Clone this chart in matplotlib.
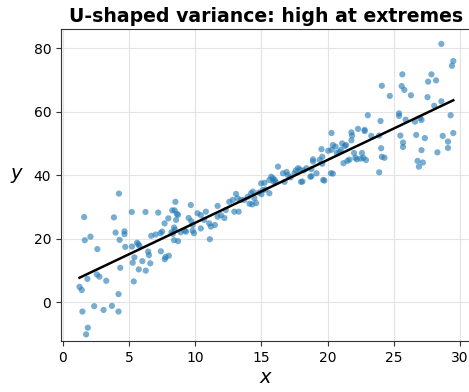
import matplotlib
matplotlib.use("Agg")
import matplotlib.pyplot as plt
import numpy as np

# points, grouped by x range
x_left = [1.25, 1.42, 1.47, 1.6, 1.65, 1.75, 1.88, 1.85, 2.08, 2.36, 2.56, 2.76, 2.6, 3.07, 3.27,
          3.7, 3.85, 3.98, 4.2, 4.2, 4.23, 4.28, 4.33, 4.65, 4.65, 4.71, 5.2, 5.22, 5.6, 5.7,
          5.78, 6.24, 6.67, 7.0, 7.37, 6.44, 6.5, 5.4, 5.27, 6.0, 5.73, 6.26, 5.35, 6.6, 7.2]
y_left = [4.8, 3.8, -3.0, 26.8, 19.5, -10.2, -8.1, 7.3, 20.6, -1.3, 8.7, 8.0, 16.7, -2.5, 6.7,
          -1.2, 26.7, 21.9, 2.5, -3.0, 34.2, 19.6, 10.8, 22.3, 21.4, 17.4, 28.4, 17.5, 18.7, 18.2,
          17.7, 28.4, 20.9, 21.3, 21.7, 15.9, 14.8, 14.1, 12.4, 12.9, 10.3, 9.9, 6.5, 12.2, 28.2]

x_mid = [8.26, 8.44, 8.5, 9.66, 8.6, 8.7, 7.96, 8.55, 7.68, 7.5, 7.4, 7.7, 7.75, 8.0, 8.4,
         8.45, 8.4, 8.7, 9.2, 9.8, 9.3, 8.9, 10.17, 10.42, 10.67, 10.8, 11.05, 11.18, 11.48,
         11.69, 11.69, 11.94, 10.42, 9.9, 11.1, 9.5, 9.7, 9.8, 8.2, 8.3, 12.57, 12.83, 13.08,
         13.2, 13.46, 13.7, 13.97, 14.22, 14.35, 14.47, 12.95, 13.28, 12.2, 12.3, 14.1, 14.3, 14.6,
         14.8, 15.0]
y_mid = [28.9, 28.9, 31.6, 30.6, 27.8, 27.5, 26.4, 25.9, 24.8, 22.2, 16.0, 13.5, 14.2, 14.6, 23.5,
         22.8, 19.5, 19.2, 22.5, 22.5, 22.2, 22.0, 28.0, 27.4, 25.9, 28.5, 24.8, 23.8, 24.3,
         26.9, 30.3, 27.4, 23.2, 21.7, 19.8, 26.5, 25.5, 24.3, 22.0, 21.5, 31.6, 32.2, 34.1,
         32.7, 32.2, 32.2, 33.2, 34.3, 34.8, 32.7, 28.5, 28.5, 26.5, 29.0, 31.0, 30.8, 31.2,
         34.5, 34.0]

x_upper = [14.98, 15.23, 15.1, 15.6, 15.74, 15.87, 15.6, 16.25, 16.63, 16.75, 17.5, 17.77, 18.0,
           18.4, 18.78, 18.78, 19.16, 19.54, 19.67, 20.05, 20.25, 19.4, 16.0, 16.1, 15.9, 17.0,
           17.2, 16.9, 17.6, 17.9, 18.2, 18.7, 18.1, 18.9, 18.9, 19.6, 19.6, 20.3, 20.6, 20.4,
           19.75, 15.3]
y_upper = [37.4, 37.6, 35.3, 38.5, 39.5, 39.0, 34.3, 42.7, 40.6, 37.9, 40.6, 42.2, 37.9,
           42.2, 41.9, 39.7, 40.6, 48.2, 38.5, 47.7, 40.6, 44.8, 38.5, 37.8, 38.0, 40.0,
           39.3, 41.0, 41.5, 41.8, 41.5, 39.5, 38.0, 45.0, 44.3, 45.8, 43.6, 48.0, 49.0, 49.5,
           38.3, 35.5]

x_right = [20.3, 20.4, 20.7, 21.0, 20.9, 21.1, 21.3, 21.4, 21.8, 21.85, 21.8, 21.2, 21.65, 21.5,
           22.3, 22.8, 22.8, 22.0, 22.1, 22.6, 22.7, 22.2, 22.5, 22.9, 23.04, 23.3, 23.9, 23.9,
           24.0, 24.05, 24.1, 24.3, 24.1, 24.7, 25.4, 25.4, 25.5, 25.7, 25.7, 25.65, 25.6, 25.8,
           25.9, 26.3, 26.6, 26.7, 26.8, 26.9, 27.2, 27.0, 27.1, 27.1, 27.35, 27.55, 27.6, 27.85,
           28.06, 28.2, 28.3, 28.6, 28.6, 28.7, 29.1, 29.1, 29.3, 29.4, 29.5, 29.5]
y_right = [53.3, 40.5, 47.0, 48.0, 47.3, 50.0, 49.2, 49.5, 53.5, 52.5, 51.0, 43.8, 44.9, 44.5,
           54.6, 54.3, 53.9, 47.0, 45.5, 47.0, 45.5, 45.0, 45.2, 44.8, 58.9, 52.4, 52.5, 40.9,
           57.1, 48.5, 45.8, 45.5, 68.2, 65.0, 59.5, 58.7, 52.5, 50.3, 48.9, 71.8, 68.1, 66.9,
           57.5, 65.2, 56.9, 52.7, 44.5, 42.7, 44.0, 58.0, 57.4, 47.9, 51.7, 64.6, 69.5, 71.8,
           61.9, 69.9, 47.2, 63.3, 81.4, 52.4, 50.6, 48.6, 58.9, 74.5, 76.0, 53.3]

x = np.array(x_left + x_mid + x_upper + x_right)
y = np.array(y_left + y_mid + y_upper + y_right)

slope, intercept = np.polyfit(x, y, 1)
xs = np.array([x.min(), x.max()])

fig = plt.figure(figsize=(4.69, 3.92), dpi=100)
ax = fig.add_axes([0.130, 0.130, 0.876, 0.796])

ax.scatter(x, y, s=20, color="tab:blue", alpha=0.6, edgecolors="none", zorder=2)
ax.plot(xs, slope * xs + intercept, color="black", lw=1.8, zorder=3)

ax.set_xlim(-0.15, 30.9)
ax.set_ylim(-12.3, 86.1)
ax.set_xticks([0, 5, 10, 15, 20, 25, 30])
ax.set_yticks([0, 20, 40, 60, 80])
ax.grid(True, color="#e3e3e3", lw=0.8, zorder=0)
ax.set_axisbelow(True)
for s in ax.spines.values():
    s.set_color("#333333")
ax.tick_params(labelsize=10, color="#333333")

ax.set_title("U-shaped variance: high at extremes", fontsize=13.6, fontweight="bold", pad=5)
ax.set_xlabel("$x$", fontsize=14, labelpad=2)
ax.set_ylabel("$y$", fontsize=14, rotation=0, labelpad=12)

fig.savefig("out.png", dpi=100)
